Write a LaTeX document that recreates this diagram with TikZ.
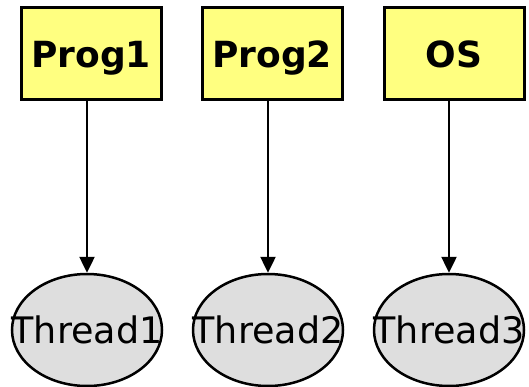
\documentclass[tikz,border=0pt]{standalone}
\usepackage{fontspec}
\setmainfont{DejaVu Sans}
\usetikzlibrary{arrows.meta,shapes.geometric}
\definecolor{progyellow}{RGB}{255,255,128}
\definecolor{threadgray}{RGB}{222,222,222}

\begin{document}
\begin{tikzpicture}[x=1pt,y=-1pt,
  prog/.style={draw,line width=3pt,fill=progyellow,minimum width=140pt,minimum height=92pt,
    inner sep=0pt,font=\fontsize{36}{40}\selectfont\bfseries,text height=27pt,text depth=0pt},
  thread/.style={ellipse,draw,line width=2.5pt,fill=threadgray,minimum width=150pt,
    minimum height=112pt,inner sep=0pt},
  spawn/.style={-{Triangle[length=16pt,width=15pt]},line width=2.5pt}]
  \useasboundingbox (0,0) rectangle (529,387);
  \foreach \i/\px/\tx/\lab in {1/91/87/Prog1,2/272/268/Prog2,3/454/449/OS} {
    \node[prog] (p\i) at (\px,54) {\lab};
    \node[thread,label={[font=\fontsize{36.5}{42}\selectfont]center:Thread\i}] (t\i) at (\tx,330) {};
    \draw[spawn] (p\i.south -| t\i.north) -- (t\i.north);
  }
\end{tikzpicture}
\end{document}
